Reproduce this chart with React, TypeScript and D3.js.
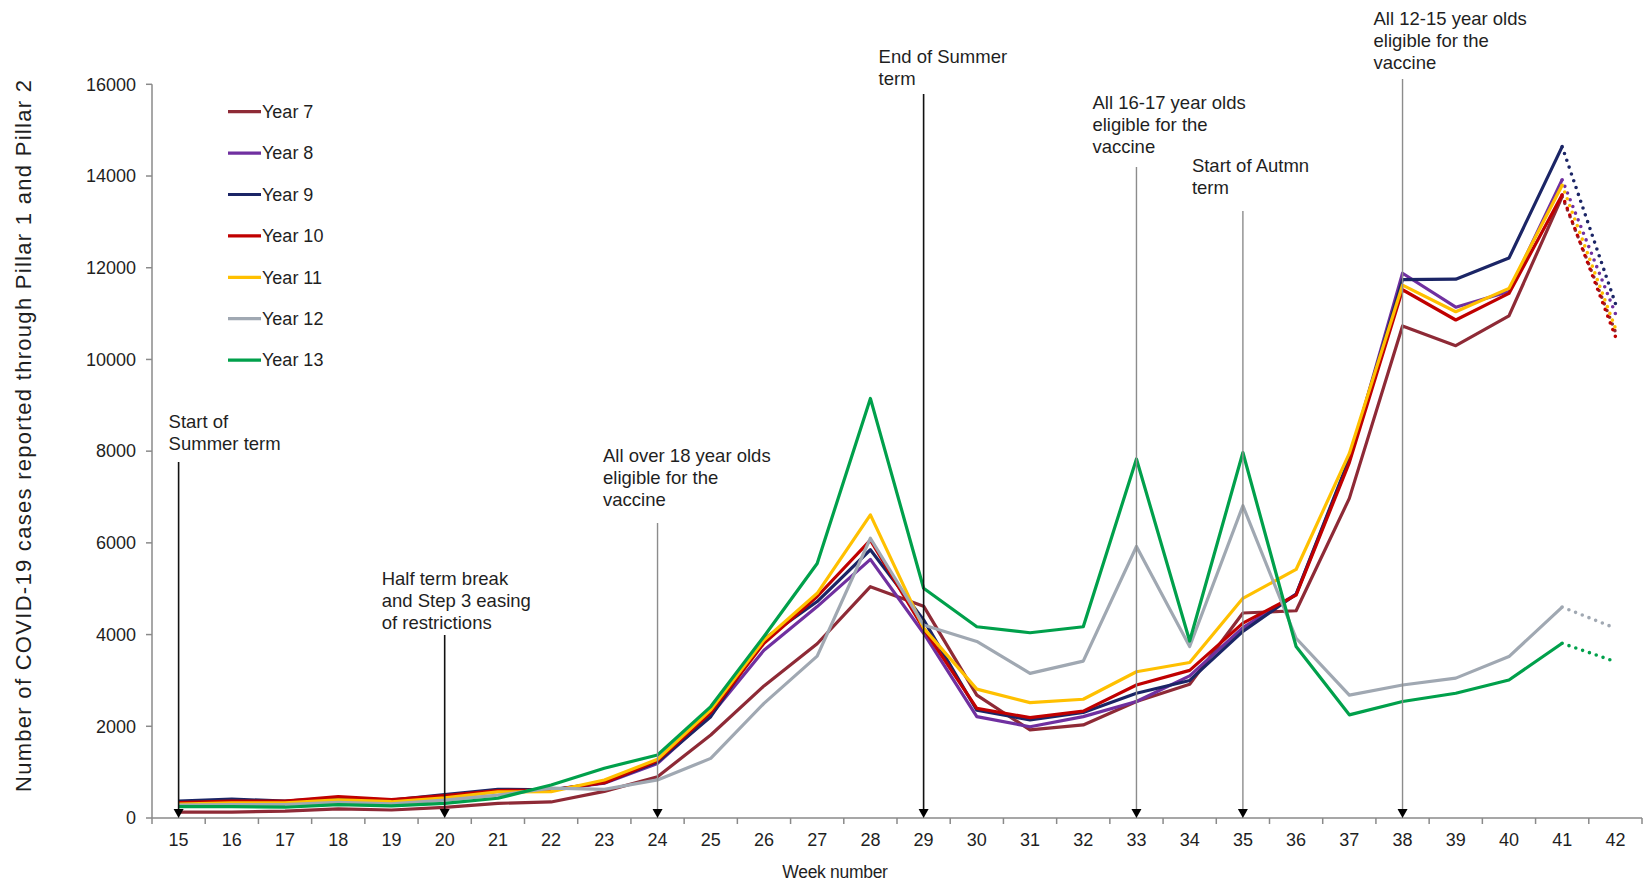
import React from "react";
import * as d3 from "d3";

const weeks = [15,16,17,18,19,20,21,22,23,24,25,26,27,28,29,30,31,32,33,34,35,36,37,38,39,40,41,42];

const year7  = [130,130,150,200,175,230,320,350,580,900,1810,2880,3800,5045,4620,2680,1920,2030,2540,2915,4470,4520,6970,10730,10300,10950,13550,10600];
const year8  = [320,380,350,420,370,470,590,610,760,1190,2240,3660,4610,5640,4030,2210,1990,2210,2540,3100,4150,4880,7800,11880,11140,11480,13920,11000];
const year9  = [370,410,370,440,390,510,625,615,770,1220,2210,3900,4720,5850,4320,2350,2140,2300,2720,3000,4070,4880,7840,11740,11750,12210,14640,11220];
const year10 = [335,370,370,465,400,490,600,610,770,1250,2300,3810,4830,6060,4130,2390,2190,2330,2900,3220,4250,4860,7750,11520,10860,11440,13590,10500];
const year11 = [305,330,330,395,355,440,570,575,830,1280,2360,3880,4900,6610,4140,2810,2515,2590,3190,3390,4790,5420,7950,11620,11040,11550,13800,10680];
const year12 = [280,290,290,340,310,390,500,650,625,830,1300,2500,3530,6100,4210,3850,3155,3420,5920,3740,6810,3920,2680,2900,3050,3520,4600,4140];
const year13 = [250,250,235,290,265,320,430,720,1085,1375,2430,3960,5550,9150,5010,4170,4040,4170,7830,3860,7970,3740,2250,2540,2720,3010,3810,3410];

const seriesNames = ["Year 7","Year 8","Year 9","Year 10","Year 11","Year 12","Year 13"];
const seriesValues = [year7, year8, year9, year10, year11, year12, year13];
const seriesColors = ["#8e2a36","#7030a0","#1b2566","#c00000","#ffc000","#a0a8b2","#00a04b"];

const yTicks = [0,2000,4000,6000,8000,10000,12000,14000,16000];
const lastSolidWeek = 41;

const annotations = [
  { week: 15, lines: ["Start of", "Summer term"], dx: -10, textY: 422, top: 462, dark: true },
  { week: 20, lines: ["Half term break", "and Step 3 easing", "of restrictions"], dx: -63, textY: 579, top: 635, dark: true },
  { week: 24, lines: ["All over 18 year olds", "eligible for the", "vaccine"], dx: -54.5, textY: 456, top: 523, dark: false },
  { week: 29, lines: ["End of Summer", "term"], dx: -45, textY: 57, top: 94, dark: true },
  { week: 33, lines: ["All 16-17 year olds", "eligible for the", "vaccine"], dx: -44, textY: 103, top: 167, dark: false },
  { week: 35, lines: ["Start of Autmn", "term"], dx: -51, textY: 166, top: 211, dark: false },
  { week: 38, lines: ["All 12-15 year olds", "eligible for the", "vaccine"], dx: -29, textY: 19, top: 79, dark: false },
];

const W = 1645, H = 884;
const left = 152, right = 1642, top = 84.3, bottom = 818;
const FONT = "'Liberation Sans', Arial, sans-serif";
const TXT = "#1f1f1f";

export default function App() {
  const x = d3.scaleBand<number>().domain(weeks).range([left, right]).padding(0);
  const cx = (w: number) => (x(w) as number) + x.bandwidth() / 2;
  const y = d3.scaleLinear().domain([0, 16000]).range([bottom, top]);

  const line = d3.line<[number, number]>().x(d => cx(d[0])).y(d => y(d[1]));

  const lineH = 21.7;

  return (
    <svg width={W} height={H} style={{ position: "absolute", left: 0, top: 0, background: "#fff" }} fontFamily={FONT}>
      <rect x={0} y={0} width={W} height={H} fill="#fff" />
      {/* y axis */}
      <line x1={left} x2={left} y1={top} y2={bottom} stroke="#8a8a8a" strokeWidth={1.5} />
      {yTicks.map(t => (
        <g key={t}>
          <line x1={left - 6} x2={left} y1={y(t)} y2={y(t)} stroke="#8a8a8a" strokeWidth={1.5} />
          <text x={136} y={y(t)} dy="0.35em" textAnchor="end" fontSize={18} fill={TXT}>{t}</text>
        </g>
      ))}
      {/* x axis */}
      <line x1={left} x2={right} y1={bottom} y2={bottom} stroke="#8a8a8a" strokeWidth={1.5} />
      {weeks.map((w, i) => (
        <line key={"tk" + w} x1={x(w) as number} x2={x(w) as number} y1={bottom} y2={bottom + 6} stroke="#8a8a8a" strokeWidth={1.5} />
      ))}
      <line x1={right} x2={right} y1={bottom} y2={bottom + 6} stroke="#8a8a8a" strokeWidth={1.5} />
      {weeks.map(w => (
        <text key={"xl" + w} x={cx(w)} y={840} dy="0.35em" textAnchor="middle" fontSize={18} fill={TXT}>{w}</text>
      ))}
      <text x={835} y={872} dy="0.35em" textAnchor="middle" fontSize={17.5} fill={TXT} letterSpacing={-0.3}>Week number</text>
      <text transform={`translate(23,436) rotate(-90)`} textAnchor="middle" dy="0.35em" fontSize={22} fill={TXT} textLength={712} lengthAdjust="spacing">
        Number of COVID-19 cases reported through Pillar 1 and Pillar 2
      </text>

      {/* series */}
      {seriesValues.map((vals, si) => {
        const pts: [number, number][] = weeks.map((w, i) => [w, vals[i]]);
        const solid = pts.filter(p => p[0] <= lastSolidWeek);
        const dotted = pts.filter(p => p[0] >= lastSolidWeek);
        return (
          <g key={seriesNames[si]}>
            <path d={line(solid) || ""} fill="none" stroke={seriesColors[si]} strokeWidth={3.2} strokeLinejoin="round" />
            <path d={line(dotted) || ""} fill="none" stroke={seriesColors[si]} strokeWidth={3.6} strokeLinecap="round" strokeDasharray="0 7.2" />
          </g>
        );
      })}

      {/* annotations */}
      {annotations.map(a => {
        const ax = cx(a.week);
        return (
          <g key={"an" + a.week}>
            <line x1={ax} x2={ax} y1={a.top} y2={bottom - 8} stroke={a.dark ? "#111" : "#8c8c8c"} strokeWidth={a.dark ? 1.6 : 1.4} />
            <path d={`M${ax - 5},${bottom - 9} L${ax + 5},${bottom - 9} L${ax},${bottom} Z`} fill="#000" />
            {a.lines.map((l, i) => (
              <text key={i} x={ax + a.dx} y={a.textY + i * lineH} dy="0.35em" fontSize={18.5} fill={TXT}>{l}</text>
            ))}
          </g>
        );
      })}

      {/* legend */}
      {seriesNames.map((n, i) => {
        const ly = 111.7 + i * 41.4;
        return (
          <g key={"lg" + n}>
            <line x1={228} x2={261} y1={ly} y2={ly} stroke={seriesColors[i]} strokeWidth={3.2} />
            <text x={262} y={ly} dy="0.35em" fontSize={18} fill={TXT}>{n}</text>
          </g>
        );
      })}
    </svg>
  );
}
